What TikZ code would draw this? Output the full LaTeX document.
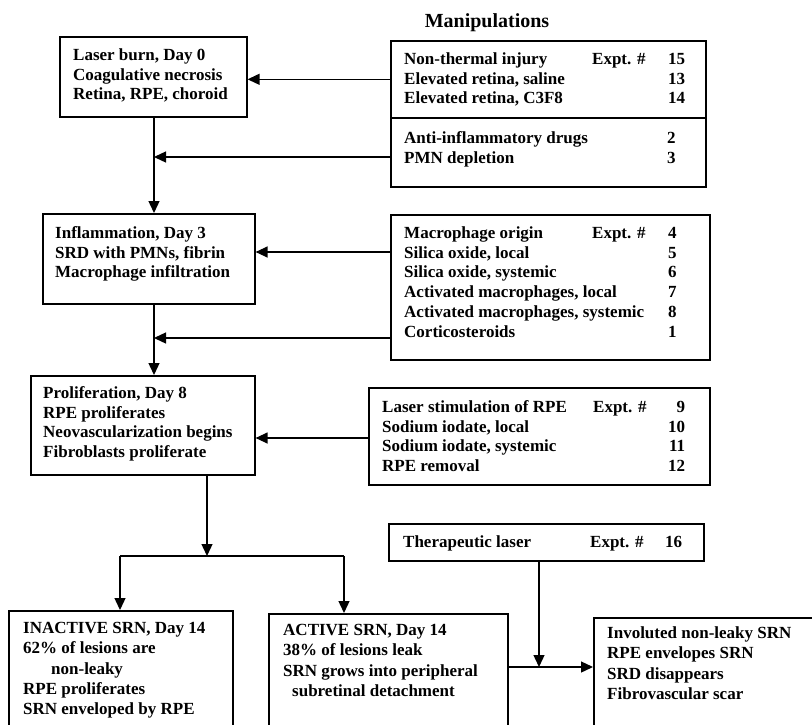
\documentclass[tikz,border=0pt]{standalone}
\usepackage{fontspec}
\setmainfont{Liberation Serif}
\usetikzlibrary{arrows.meta,calc}

% strut that fixes the top of every first text line 13pt above its baseline
\newcommand{\fl}{\rule{0pt}{13pt}}

\begin{document}
\begin{tikzpicture}[x=1pt,y=-1pt,
  box/.style={draw, line width=1.6pt, inner sep=0pt, anchor=north west},
  txt/.style={anchor=north west, inner sep=0pt, align=left,
              font=\fontsize{17}{19.8}\selectfont\bfseries},
  txtlow/.style={txt, font=\fontsize{17}{20.4}\selectfont\bfseries},
  conn/.style={line width=1.3pt},
  arr/.style={conn, -{Triangle[length=12pt,width=11pt]}}]

\useasboundingbox (0,0) rectangle (812,724);
\fill[white] (0,0) rectangle (812,724);
\clip (0,0) rectangle (812,724);

% title of the right-hand column
\node[anchor=base, inner sep=0pt, font=\fontsize{20}{24}\selectfont\bfseries]
  (title) at (487,27) {Manipulations};

% ---------- stage boxes (left column) ----------
\node[box, minimum width=187pt, minimum height=80pt]  (burn)   at (59,36)  {};
\node[box, minimum width=212pt, minimum height=90pt]  (infl)   at (42,213) {};
\node[box, minimum width=224pt, minimum height=99pt]  (prolif) at (30,375) {};

\node[txt] (burnT) at (73,47) {\fl Laser burn, Day 0\\Coagulative necrosis\\Retina, RPE, choroid};
\node[txt] (inflT) at (55,225) {\fl Inflammation, Day 3\\SRD with PMNs, fibrin\\Macrophage infiltration};
\node[txt] (prolifT) at (43,385) {\fl Proliferation, Day 8\\RPE proliferates\\Neovascularization begins\\Fibroblasts proliferate};

% ---------- manipulation boxes (right column) ----------
\node[box, minimum width=315pt, minimum height=77pt]  (manA) at (390,40)  {};
\node[box, minimum width=315pt, minimum height=69pt]  (manB) at (390,117) {};
\node[box, minimum width=319pt, minimum height=145pt] (manC) at (390,214) {};
\node[box, minimum width=341pt, minimum height=97pt]  (manD) at (368,387) {};
\node[box, minimum width=315pt, minimum height=37pt]  (ther) at (388,523) {};

\node[txt] (manAT) at (404,51) {\fl\makebox[188pt][l]{Non-thermal injury}\makebox[76pt][l]{Expt. \#}15\\
  \makebox[264pt][l]{Elevated retina, saline}13\\
  \makebox[264pt][l]{Elevated retina, C3F8}14};
\node[txt] (manBT) at (404,130) {\fl\makebox[263pt][l]{Anti-inflammatory drugs}2\\
  \makebox[263pt][l]{PMN depletion}3};
\node[txt] (manCT) at (404,225) {\fl\makebox[188pt][l]{Macrophage origin}\makebox[76pt][l]{Expt. \#}4\\
  \makebox[264pt][l]{Silica oxide, local}5\\
  \makebox[264pt][l]{Silica oxide, systemic}6\\
  \makebox[264pt][l]{Activated macrophages, local}7\\
  \makebox[264pt][l]{Activated macrophages, systemic}8\\
  \makebox[264pt][l]{Corticosteroids}1};
\node[txt] (manDT) at (382,399) {\fl\makebox[211pt][l]{Laser stimulation of RPE}\makebox[54pt][l]{Expt. \#}\makebox[38pt][r]{9}\\
  \makebox[265pt][l]{Sodium iodate, local}\makebox[38pt][r]{10}\\
  \makebox[265pt][l]{Sodium iodate, systemic}\makebox[38pt][r]{11}\\
  \makebox[265pt][l]{RPE removal}\makebox[38pt][r]{12}};
\node[txt] (therT) at (403,534) {\fl\makebox[187pt][l]{Therapeutic laser}\makebox[75pt][l]{Expt. \#}16};

% ---------- outcome boxes (open at the lower edge) ----------
\node[box, minimum width=224pt, minimum height=130pt] (inact) at (8,610)   {};
\node[box, minimum width=239pt, minimum height=127pt] (act)   at (268,613) {};
\node[box, minimum width=228pt, minimum height=123pt] (invol) at (593,617) {};

\node[txtlow] (inactT) at (23,620) {\fl INACTIVE SRN, Day 14\\62\% of lesions are\\\hspace*{28pt}non-leaky\\RPE proliferates\\SRN enveloped by RPE};
\node[txtlow] (actT) at (283,622) {\fl ACTIVE SRN, Day 14\\38\% of lesions leak\\SRN grows into peripheral\\\hspace*{9pt}subretinal detachment};
\node[txtlow] (involT) at (607,625) {\fl Involuted non-leaky SRN\\RPE envelopes SRN\\SRD disappears\\Fibrovascular scar};

% ---------- junction points ----------
\coordinate (j1) at (154,157);
\coordinate (j2) at (154,338);
\coordinate (lv2) at (0,252);
\coordinate (lv3) at (0,438);
\coordinate (fork) at (207,556);
\coordinate (forkL) at (120,556);
\coordinate (forkR) at (344,556);
\coordinate (merge) at (539,667);

% ---------- connectors ----------
\draw[arr] (manA.west) -- (manA.west -| burn.east);
\draw[arr] (manB.west |- j1) -- (j1);
\draw[arr] (burn.south -| j1) -- (infl.north -| j1);

\draw[arr] (manC.west |- lv2) -- (infl.east |- lv2);
\draw[arr] (manC.west |- j2) -- (j2);
\draw[arr] (infl.south -| j1) -- (prolif.north -| j1);

\draw[arr] (manD.west |- lv3) -- (prolif.east |- lv3);
\draw[arr] (prolif.south -| fork) -- (fork);
\draw[conn] (forkL) -- (forkR);
\draw[arr] (forkL) -- (forkL |- inact.north);
\draw[arr] (forkR) -- (forkR |- act.north);

\draw[arr] (ther.south -| merge) -- (merge);
\draw[arr] (act.east |- merge) -- (invol.west |- merge);

\end{tikzpicture}
\end{document}
